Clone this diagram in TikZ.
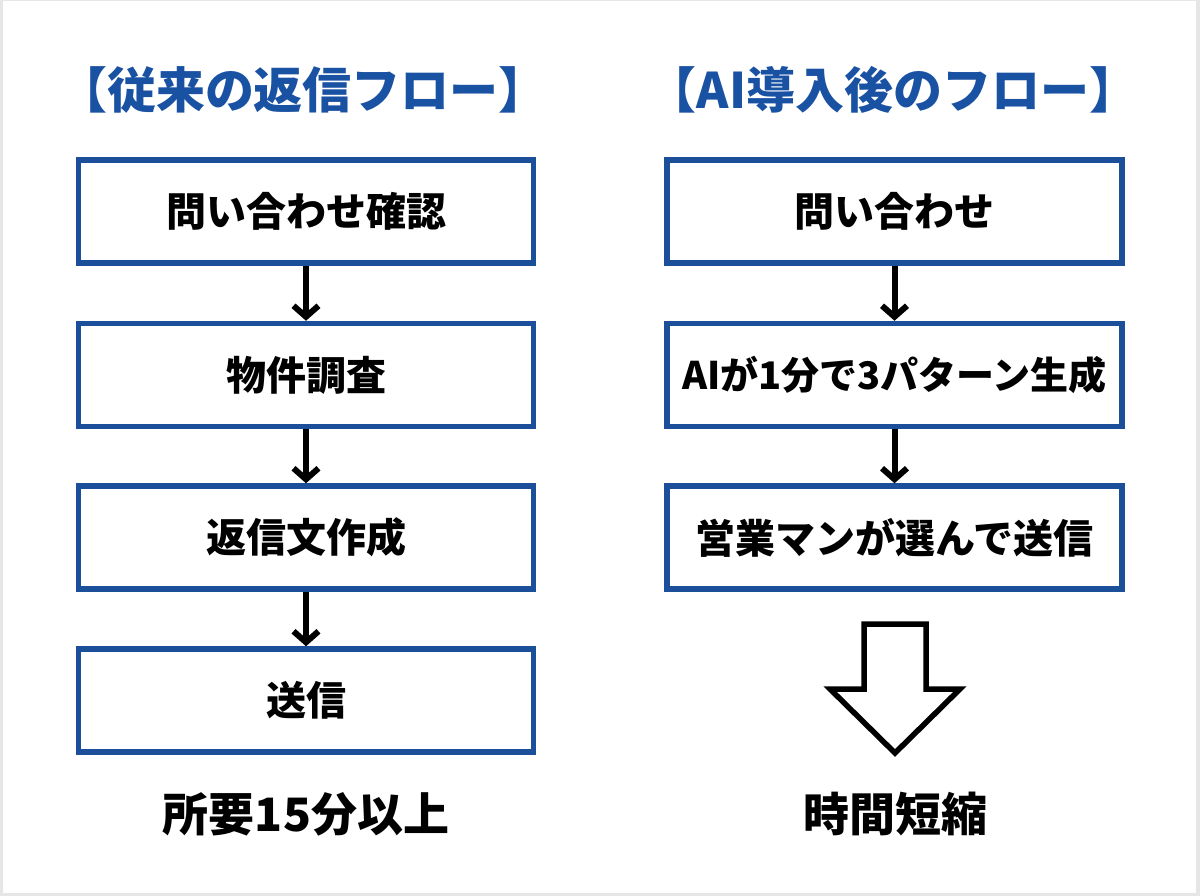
\documentclass[tikz,border=0pt]{standalone}
\usepackage{fontspec}
\setmainfont{Noto Sans CJK JP}
\usetikzlibrary{arrows.meta}
\definecolor{frameblue}{HTML}{1B4F9A}
\definecolor{titleblue}{HTML}{1A52A3}
\definecolor{edgegray}{HTML}{E6E6E6}
\tikzset{
  flowbox/.style={draw=frameblue, line width=5.5pt, fill=white, minimum width=455pt, minimum height=103pt, inner sep=0pt, font=\fontsize{40}{40}\selectfont\bfseries},
  flowarrow/.style={draw=black, line width=6pt, -{Straight Barb[length=11pt,width=25pt]}},
  titletext/.style={text=titleblue, font=\fontsize{49}{49}\selectfont\bfseries},
  resulttext/.style={text=black, font=\fontsize{46}{46}\selectfont\bfseries}
}
\begin{document}
\begin{tikzpicture}[x=1pt,y=-1pt]
\fill[edgegray] (0,0) rectangle (1200,896);
\fill[white] (3,1) rectangle (1196,893);
\useasboundingbox (0,0) rectangle (1200,896);
% titles
\node[titletext] (t1) at (303,90) {【従来の返信フロー】};
\node[titletext] (t2) at (893,90) {【AI導入後のフロー】};
% left column
\node[flowbox] (l1) at (306,211.5) {問い合わせ確認};
\node[flowbox] (l2) at (306,375) {物件調査};
\node[flowbox] (l3) at (306,537.5) {返信文作成};
\node[flowbox] (l4) at (306,700.5) {送信};
\draw[flowarrow] (l1.south) -- (l2.north);
\draw[flowarrow] (l2.south) -- (l3.north);
\draw[flowarrow] (l3.south) -- (l4.north);
\node[resulttext] (r1) at (306,814) {所要15分以上};
% right column
\node[flowbox] (m1) at (894.5,211.5) {問い合わせ};
\node[flowbox, font=\fontsize{38}{38}\selectfont\bfseries] (m2) at (894.5,375) {AIが1分で3パターン生成};
\node[flowbox] (m3) at (894.5,537.5) {営業マンが選んで送信};
\draw[flowarrow] (m1.south) -- (m2.north);
\draw[flowarrow] (m2.south) -- (m3.north);
% hollow arrow
\draw[black, line width=5.5pt, fill=white, line join=miter]
  (864,624) -- (926,624) -- (926,689) -- (960,689) -- (895,753) -- (830,689) -- (864,689) -- cycle;
\node[resulttext] (r2) at (895,814) {時間短縮};
\end{tikzpicture}
\end{document}
